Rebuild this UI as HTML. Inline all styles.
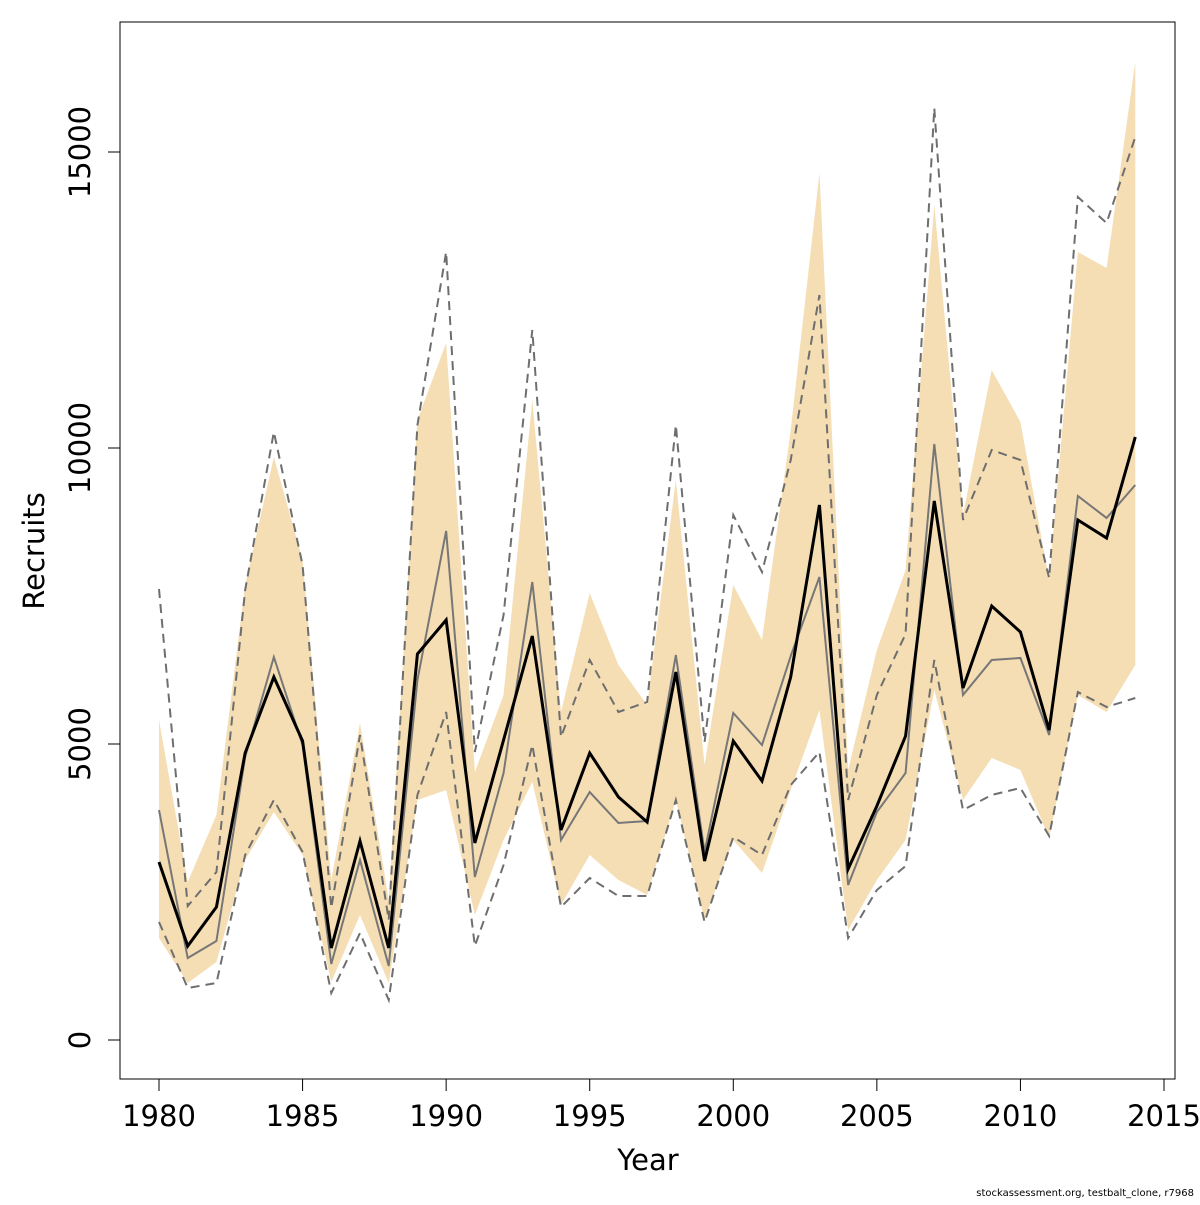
<!DOCTYPE html>
<html><head><meta charset="utf-8"><style>
body{margin:0;background:#fff}
svg text{font-family:"DejaVu Sans","Liberation Sans",sans-serif}
</style></head><body>
<svg id="chart" width="1200" height="1200" xmlns="http://www.w3.org/2000/svg">
<rect width="1200" height="1200" fill="#fff"/>
<g id="band"></g>
<g id="lines"></g>
<rect x="120" y="22" width="1055" height="1057" fill="none" stroke="#000" stroke-width="1"/>
<g id="axes"></g>
<text x="648" y="1170" font-size="29" text-anchor="middle">Year</text>
<text x="44" y="551" font-size="29" text-anchor="middle" transform="rotate(-90 44 551)">Recruits</text>
<text x="1194" y="1196" font-size="10" text-anchor="end">stockassessment.org, testbalt_clone, r7968</text>
</svg>
<script>
const years=[1980,1981,1982,1983,1984,1985,1986,1987,1988,1989,1990,1991,1992,1993,1994,1995,1996,1997,1998,1999,2000,2001,2002,2003,2004,2005,2006,2007,2008,2009,2010,2011,2012,2013,2014];
const estimate=[3007,1588,2247,4848,6132,5051,1554,3361,1554,6520,7095,3328,5068,6824,3547,4848,4105,3682,6216,3024,5051,4375,6132,9037,2889,3953,5135,9105,5946,7331,6892,5236,8784,8480,10186];
const altEstimate=[3885,1385,1672,4780,6470,4983,1284,3041,1250,6081,8598,2753,4510,7736,3378,4189,3666,3699,6503,3176,5524,4983,6486,7821,2618,3851,4510,10068,5828,6419,6453,5152,9189,8818,9375];
const altUpper=[7618,2264,2838,7601,10270,8024,2230,5152,2027,10389,13311,4865,7179,11993,5118,6419,5541,5709,10389,5034,8868,7905,9797,12584,4054,5828,6858,15743,8784,9966,9797,7804,14240,13801,15253];
const altLower=[1993,878,963,3125,4054,3176,794,1807,676,4139,5541,1588,2956,4983,2247,2736,2432,2432,4054,1993,3429,3125,4307,4865,1723,2534,2939,6419,3885,4139,4257,3446,5878,5625,5777];
const bandUpper=[5405,2669,3801,7686,9848,8108,2703,5355,2365,10473,11774,4527,5828,10811,5541,7551,6334,5659,9459,4645,7686,6757,10304,14645,4561,6588,7939,14105,8868,11318,10439,7770,13311,13041,16520];
const bandLower=[1723,963,1318,3041,3851,3125,980,2111,963,4054,4223,2111,3378,4358,2280,3125,2703,2449,4054,2027,3378,2821,4223,5574,1858,2703,3378,5912,4054,4764,4561,3412,5828,5541,6334];
const xTicks=[1980,1985,1990,1995,2000,2005,2010,2015];
const yTicks=[0,5000,10000,15000];

const X=v=>159+(v-1980)*(1005/35);
const Y=v=>1040-v*(888/15000);
const NS='http://www.w3.org/2000/svg';
function mk(tag,parent){const e=document.createElementNS(NS,tag);parent.appendChild(e);return e;}
const band=document.getElementById('band'),lines=document.getElementById('lines'),axes=document.getElementById('axes');

let pts=years.map((y,i)=>X(y)+','+Y(bandUpper[i]));
pts=pts.concat(years.map((y,i)=>X(y)+','+Y(bandLower[i])).reverse());
const poly=mk('polygon',band);


poly.setAttribute('points',pts.join(' '));poly.setAttribute('fill','#f5deb3');

function line(arr,name,stroke,w,dash){
  const p=mk('polyline',lines);
  
  
  p.setAttribute('points',years.map((y,i)=>X(y)+','+Y(arr[i])).join(' '));
  p.setAttribute('fill','none');p.setAttribute('stroke',stroke);p.setAttribute('stroke-width',w);
  if(dash)p.setAttribute('stroke-dasharray',dash);
}
line(altUpper,'alt-upper-line','#6e6e6e',2,'9,6');
line(altLower,'alt-lower-line','#6e6e6e',2,'9,6');
line(altEstimate,'alt-estimate-line','#777',2,null);
line(estimate,'estimate-line','#000',3,null);

const xl=mk('line',axes);


xl.setAttribute('x1',X(1980));xl.setAttribute('x2',X(2015));xl.setAttribute('y1',1079);xl.setAttribute('y2',1079);xl.setAttribute('stroke','#000');
xTicks.forEach(t=>{
  const l=mk('line',axes);
  
  
  l.setAttribute('x1',X(t));l.setAttribute('x2',X(t));l.setAttribute('y1',1079);l.setAttribute('y2',1091);l.setAttribute('stroke','#000');
  const tx=mk('text',axes);
  
  
  tx.setAttribute('x',X(t));tx.setAttribute('y',1126);tx.setAttribute('font-size','29');tx.setAttribute('text-anchor','middle');tx.textContent=t;
});
const yl=mk('line',axes);


yl.setAttribute('x1',120);yl.setAttribute('x2',120);yl.setAttribute('y1',Y(0));yl.setAttribute('y2',Y(15000));yl.setAttribute('stroke','#000');
yTicks.forEach(t=>{
  const l=mk('line',axes);
  
  
  l.setAttribute('x1',108);l.setAttribute('x2',120);l.setAttribute('y1',Y(t));l.setAttribute('y2',Y(t));l.setAttribute('stroke','#000');
  const tx=mk('text',axes);
  
  
  tx.setAttribute('x',90);tx.setAttribute('y',Y(t));tx.setAttribute('font-size','29');tx.setAttribute('text-anchor','middle');
  tx.setAttribute('transform','rotate(-90 90 '+Y(t)+')');tx.textContent=t;
});
</script>
</body></html>
